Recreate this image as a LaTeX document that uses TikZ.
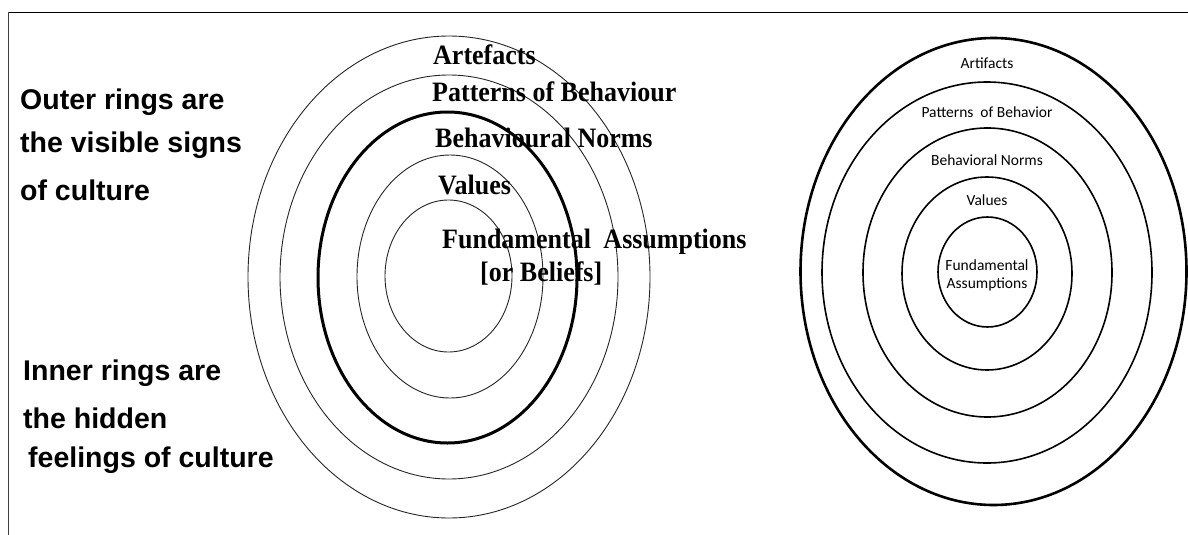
\documentclass[tikz,border=0pt]{standalone}
\usepackage{fontspec}
\setmainfont{Liberation Serif}
\newfontfamily\carlito{Carlito}
\newfontfamily\arialf{Liberation Sans}
\begin{document}
\begin{tikzpicture}[x=1pt,y=-1pt,
  ring/.style={draw=black!85,line width=0.9pt},
  thickring/.style={draw=black,line width=3pt},
  rring/.style={draw=black,line width=1.6pt},
  router/.style={draw=black,line width=2.6pt},
  oldlab/.style={font=\fontsize{26}{26}\selectfont\bfseries,inner sep=0pt,anchor=west,yscale=1.08},
  newlab/.style={font=\carlito\fontsize{15.5}{16}\selectfont,inner sep=0pt,align=center},
  sidelab/.style={font=\arialf\fontsize{28.5}{29}\selectfont\bfseries,inner sep=0pt,anchor=west}]
\useasboundingbox (0,0) rectangle (1188,535);
\fill[white] (0,0) rectangle (1188,535);
% frame lines
\coordinate (tl) at (8.5,12.5);
\coordinate (tr) at (1188,12.5);
\coordinate (bl) at (8.5,535);
\draw[line width=1.6pt] (tl) -- (tr);
\draw[line width=1.6pt,black!75] (tl) -- (bl);
% left diagram rings
\coordinate (lc) at (449,277);
\draw[ring] (lc) ellipse [x radius=201,y radius=241];
\draw[ring] (lc) ellipse [x radius=169,y radius=202];
\draw[thickring] (447.5,277.5) ellipse [x radius=129.5,y radius=165.5];
\draw[ring] (450,276.5) ellipse [x radius=93,y radius=121.5];
\draw[ring] (448.5,276) ellipse [x radius=63.5,y radius=76];
% left diagram labels
\node[oldlab] (art) at (433,55) {Artefacts};
\node[oldlab] (pat) at (432,92) {Patterns of Behaviour};
\node[oldlab] (bnorm) at (435,138) {Behavioural Norms};
\node[oldlab] (val) at (438,185) {Values};
\node[oldlab] (fund) at (442,242) {Fundamental\hspace{6pt} Assumptions};
\node[oldlab] (bel) at (480,273) {[or Beliefs]};
% side texts
\node[sidelab] (o1) at (20,102) {Outer rings are};
\node[sidelab] (o2) at (20,145) {the visible signs};
\node[sidelab] (o3) at (20,190) {of culture};
\node[sidelab] (i1) at (23,373) {Inner rings are};
\node[sidelab] (i2) at (23,418) {the hidden};
\node[sidelab] (i3) at (28,460) {feelings of culture};
% right diagram rings
\draw[router] (993.5,271.5) ellipse [x radius=193,y radius=233.5];
\draw[rring] (987,272.5) ellipse [x radius=165,y radius=190.5];
\draw[rring] (987.5,272.5) ellipse [x radius=124.5,y radius=144.5];
\draw[rring] (987,273.5) ellipse [x radius=85,y radius=96.5];
\draw[rring] (987.5,272) ellipse [x radius=49.5,y radius=55];
% right diagram labels
\node[newlab] (rart) at (987,63) {Artifacts};
\node[newlab] (rpat) at (987,112) {Patterns\ \ of Behavior};
\node[newlab] (rbn) at (987,160) {Behavioral Norms};
\node[newlab] (rval) at (987,200) {Values};
\node[newlab] (rfund) at (987,275) {Fundamental\\[2pt]Assumptions};
\end{tikzpicture}
\end{document}
